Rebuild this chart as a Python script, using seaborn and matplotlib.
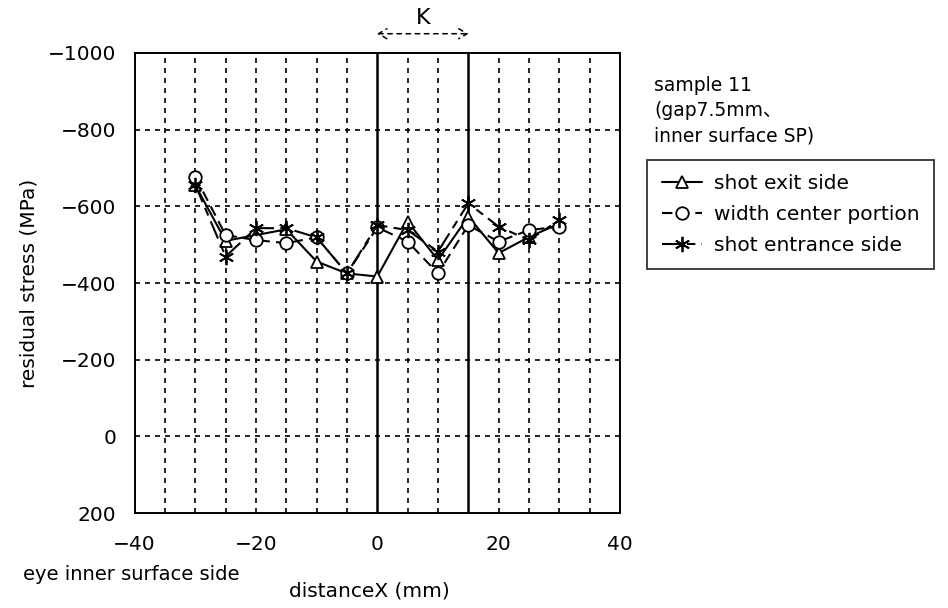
import matplotlib

matplotlib.use("Agg")

import matplotlib.pyplot as plt
import pandas as pd
import seaborn as sns

# measurement positions (mm)
distance_x = [-30, -25, -20, -15, -10, -5, 0, 5, 10, 15, 20, 25, 30]

# residual stress values (MPa)
shot_exit_side = [-655, -510, -525, -540, -456, -425, -417, -560, -460, -573, -478, -520, -555]
width_center_portion = [-677, -525, -512, -504, -519, -425, -545, -508, -425, -551, -508, -538, -547]
shot_entrance_side = [-656, -469, -543, -543, -519, -425, -551, -538, -482, -608, -547, -512, -564]

series_names = ["shot exit side", "width center portion", "shot entrance side"]

x_ticks = [-40, -20, 0, 20, 40]
y_ticks = [-1000, -800, -600, -400, -200, 0, 200]


def prepare_df():
    """
    long format dataframe for seaborn
    """
    frames = []
    for name, values in zip(
        series_names, [shot_exit_side, width_center_portion, shot_entrance_side]
    ):
        frames.append(pd.DataFrame({"x": distance_x, "stress": values, "series": name}))
    return pd.concat(frames, ignore_index=True)


def residual_stress_chart():
    df = prepare_df()

    sns.set_theme(style="white")
    plt.rcParams["font.family"] = ["DejaVu Sans"]
    plt.rcParams["text.color"] = "black"
    plt.rcParams["axes.labelcolor"] = "black"
    plt.rcParams["xtick.color"] = "black"
    plt.rcParams["ytick.color"] = "black"

    fig = plt.figure(figsize=(9.48, 6.08), dpi=100)
    ax = fig.add_axes([0.142, 0.156, 0.512, 0.757])

    # marker / line style per series
    styles = {
        "shot exit side": dict(marker="^", linestyle="-", markersize=9),
        "width center portion": dict(marker="o", linestyle=(0, (5, 3)), markersize=9),
        "shot entrance side": dict(marker=(6, 2, 0), linestyle=(0, (9, 3, 4, 3)), markersize=11),
    }

    for name in series_names:
        sub = df[df["series"] == name]
        st = styles[name]
        sns.lineplot(
            data=sub,
            x="x",
            y="stress",
            ax=ax,
            color="black",
            linewidth=1.5,
            marker=st["marker"],
            markersize=st["markersize"],
            markerfacecolor="white",
            markeredgecolor="black",
            markeredgewidth=1.3,
            linestyle=st["linestyle"],
            label=name,
        )

    # axes: inverted y, from -1000 (top) to 200 (bottom)
    ax.set_xlim(-40, 40)
    ax.set_ylim(200, -1000)
    ax.set_xticks(x_ticks)
    ax.set_yticks(y_ticks)

    ax.grid(False)
    for xv in range(-35, 40, 5):
        if xv in (0, 15):
            continue
        ax.axvline(xv, color="black", linestyle=(0, (3, 3)), linewidth=1.2, zorder=0)
    for yv in y_ticks[1:-1]:
        ax.axhline(yv, color="black", linestyle=(0, (3, 3)), linewidth=1.2, zorder=0)

    # solid lines marking region K
    ax.axvline(0, color="black", linewidth=1.8, zorder=1)
    ax.axvline(15, color="black", linewidth=1.8, zorder=1)

    for spine in ax.spines.values():
        spine.set_color("black")
        spine.set_linewidth(1.4)

    ax.tick_params(axis="both", which="both", length=0, labelsize=14.5)
    ax.tick_params(axis="y", pad=13)
    ax.tick_params(axis="x", pad=16)
    ax.set_xticklabels([str(v).replace("-", "\u2212") for v in x_ticks])
    ax.set_yticklabels([str(v).replace("-", "\u2212") for v in y_ticks])

    ax.set_xlabel("")
    ax.set_ylabel("residual stress (MPa)", fontsize=14.5, labelpad=7)

    # K arrow above the plot
    ax.annotate(
        "",
        xy=(15.5, -1050),
        xytext=(-0.5, -1050),
        xycoords="data",
        arrowprops=dict(
            arrowstyle="<->,head_length=0.5,head_width=0.3",
            linestyle=(0, (3, 3)),
            color="black",
            lw=1.1,
        ),
        annotation_clip=False,
    )
    ax.text(7.5, -1092, "K", ha="center", va="center", fontsize=16, clip_on=False)

    # bottom labels
    fig.text(0.024, 0.055, "eye inner surface side", fontsize=14, ha="left", va="center")
    fig.text(0.39, 0.028, "distanceX (mm)", fontsize=14.5, ha="center", va="center")

    # sample description
    fig.text(
        0.69,
        0.875,
        "sample 11\n(gap7.5mm\u3001\ninner surface SP)",
        fontsize=13.5,
        ha="left",
        va="top",
        linespacing=1.4,
        family=["DejaVu Sans", "Noto Sans CJK JP"],
    )

    leg = ax.legend(
        loc="upper left",
        bbox_to_anchor=(0.683, 0.737),
        bbox_transform=fig.transFigure,
        frameon=True,
        fancybox=False,
        edgecolor="black",
        fontsize=14.5,
        handlelength=2.0,
        handletextpad=0.6,
        borderpad=0.7,
        labelspacing=0.6,
        borderaxespad=0,
    )
    leg.get_frame().set_linewidth(1.3)

    plt.savefig("out.png", dpi=100)


residual_stress_chart()
